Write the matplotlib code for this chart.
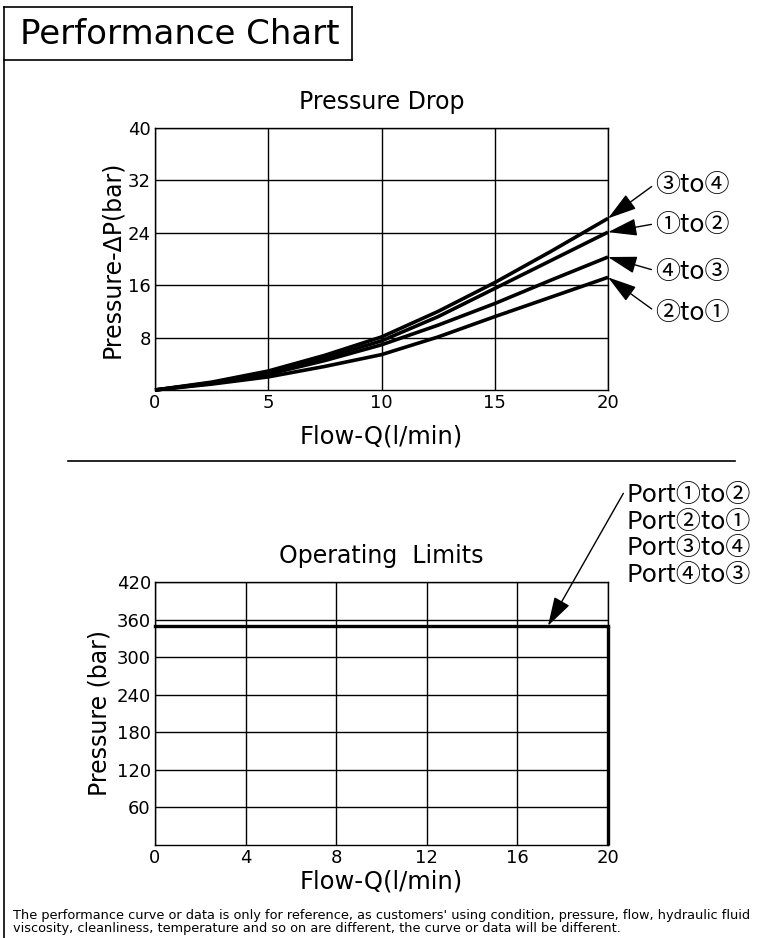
import matplotlib
matplotlib.use('Agg')
import matplotlib.pyplot as plt
from matplotlib.lines import Line2D

plt.rcParams['font.family'] = ['DejaVu Sans', 'Noto Sans CJK JP']
CJK = ['Noto Sans CJK JP', 'DejaVu Sans']

# Pressure drop curves (flow l/min -> delta p bar)
flow = [0, 2.5, 5, 7.5, 10, 12.5, 15, 17.5, 20]
dp_3to4 = [0, 1.2, 2.9, 5.3, 8.1, 12.0, 16.4, 21.2, 26.2]
dp_1to2 = [0, 1.1, 2.7, 4.9, 7.5, 11.2, 15.5, 19.8, 24.1]
dp_4to3 = [0, 1.0, 2.4, 4.5, 6.9, 9.9, 13.2, 16.8, 20.3]
dp_2to1 = [0, 0.9, 2.0, 3.6, 5.4, 8.1, 11.2, 14.2, 17.2]
curve_labels = ['③to④', '①to②', '④to③', '②to①']
label_y = [31.3, 25.2, 18.0, 11.75]

# Operating limits
max_flow = 20
max_pressure = 350
port_labels = ['Port①to②', 'Port②to①', 'Port③to④', 'Port④to③']
port_label_y = [559, 516, 474, 431]

fig = plt.figure(figsize=(7.66, 9.38), dpi=100)
W, H = 766, 938

def px(x, y):
    return x / W, 1 - y / H

# frame and title box
for (x0, y0, x1, y1) in [(4, 7, 352, 7), (352, 7, 352, 60), (4, 60, 352, 60),
                         (4, 7, 4, 938), (68, 461, 735, 461)]:
    a, b = px(x0, y0)
    c, d = px(x1, y1)
    fig.add_artist(Line2D([a, c], [b, d], color='black', lw=1.2))
fig.text(*px(180, 35), 'Performance Chart', fontsize=24.5, ha='center', va='center')

arrow = dict(arrowstyle='-|>,head_length=1.5,head_width=0.45', mutation_scale=12,
             color='black', lw=1, shrinkA=1, shrinkB=0)

# ---- Pressure drop chart
ax1 = fig.add_axes([155 / W, 1 - 390 / H, 453 / W, 262 / H])
series = [dp_3to4, dp_1to2, dp_4to3, dp_2to1]
for dp in series:
    ax1.plot(flow, dp, color='black', lw=2.6, solid_capstyle='butt', clip_on=False)
ax1.set_xlim(0, 20)
ax1.set_ylim(0, 40)
ax1.set_xticks([0, 5, 10, 15, 20])
ax1.set_yticks([8, 16, 24, 32, 40])
ax1.grid(True, color='black', lw=1)
ax1.tick_params(length=0, labelsize=13, pad=3)
ax1.set_title('Pressure Drop', fontsize=17, pad=14)
ax1.set_xlabel('Flow-Q(l/min)', fontsize=17.5, labelpad=9)
ax1.set_ylabel('Pressure-ΔP(bar)', fontsize=17, labelpad=3)
for s in ax1.spines.values():
    s.set_linewidth(1)
for dp, lab, ly in zip(series, curve_labels, label_y):
    ax1.annotate(lab, xy=(20, dp[-1]), xytext=(22.1, ly), fontsize=18, family=CJK,
                 ha='left', va='center', annotation_clip=False,
                 arrowprops=dict(arrow, relpos=(0, 0.55)))

# ---- Operating limits chart
ax2 = fig.add_axes([155 / W, 1 - 845 / H, 453 / W, 263 / H])
ax2.plot([0, max_flow], [max_pressure, max_pressure], color='black', lw=2.4,
         clip_on=False, solid_capstyle='projecting')
ax2.plot([max_flow, max_flow], [0, max_pressure], color='black', lw=2.4,
         clip_on=False, solid_capstyle='butt')
ax2.set_xlim(0, 20)
ax2.set_ylim(0, 420)
ax2.set_xticks([0, 4, 8, 12, 16, 20])
ax2.set_yticks([60, 120, 180, 240, 300, 360, 420])
ax2.grid(True, color='black', lw=1)
ax2.tick_params(length=0, labelsize=13, pad=3)
ax2.set_title('Operating  Limits', fontsize=17, pad=14)
ax2.set_xlabel('Flow-Q(l/min)', fontsize=17.5, labelpad=2)
ax2.set_ylabel('Pressure (bar)', fontsize=17, labelpad=4)
for s in ax2.spines.values():
    s.set_linewidth(1)
for i, (lab, ly) in enumerate(zip(port_labels, port_label_y)):
    if i == 0:
        ax2.annotate(lab, xy=(17.35, max_pressure), xytext=(20.8, ly), fontsize=18,
                     family=CJK, ha='left', va='center', annotation_clip=False,
                     arrowprops=dict(arrow, shrinkA=0, relpos=(0, 0.75)))
    else:
        ax2.text(20.8, ly, lab, fontsize=18, family=CJK, ha='left', va='center',
                 clip_on=False)

fig.text(13 / W, 1 - 922 / H,
         "The performance curve or data is only for reference, as customers' using condition, pressure, flow, hydraulic fluid\n"
         "viscosity, cleanliness, temperature and so on are different, the curve or data will be different.",
         fontsize=9.3, ha='left', va='center', linespacing=0.95)

fig.savefig('out.png', dpi=100)
